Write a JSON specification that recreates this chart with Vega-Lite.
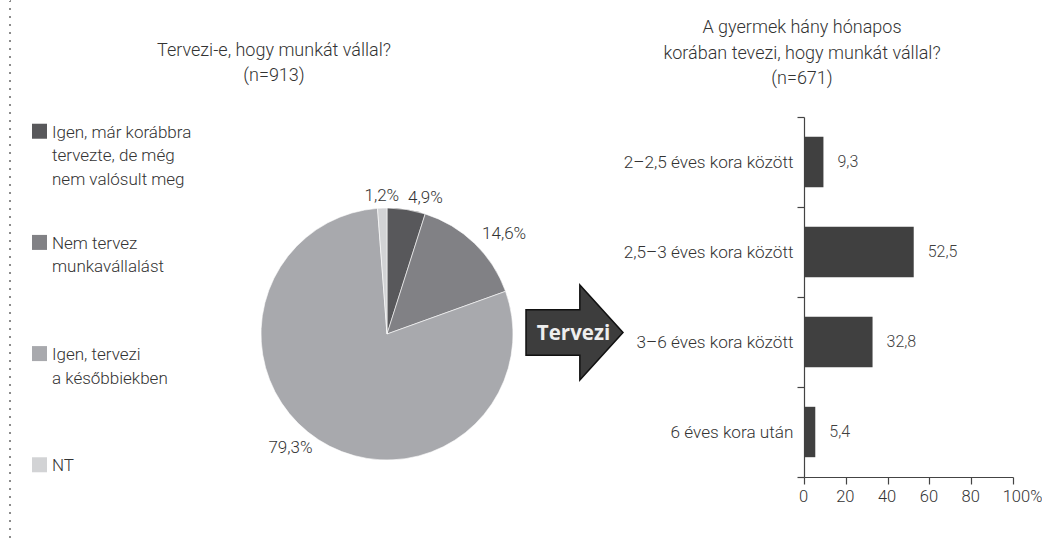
{
  "$schema": "https://vega.github.io/schema/vega-lite/v6.json",
  "background": "white",
  "padding": {"left": 9, "top": 0, "right": 0, "bottom": 0},
  "config": {
    "font": "Roboto",
    "view": {"stroke": null},
    "locale": {"number": {"decimal": ",", "thousands": " ", "grouping": [3], "currency": ["", ""]}},
    "title": {"font": "Roboto", "fontSize": 18, "fontWeight": 300, "color": "#333333", "lineHeight": 25.5, "anchor": "middle", "frame": "group"},
    "axis": {"labelFont": "Roboto", "labelFontWeight": 300}
  },
  "datasets": {
    "pie": [
      {"cat": "Igen, már korábbra\ntervezte, de még\nnem valósult meg", "pct": 4.9},
      {"cat": "Nem tervez\nmunkavállalást", "pct": 14.6},
      {"cat": "Igen, tervezi\na későbbiekben", "pct": 79.3},
      {"cat": "NT", "pct": 1.2}
    ],
    "bars": [
      {"cat": "2–2,5 éves kora között", "val": 9.3},
      {"cat": "2,5–3 éves kora között", "val": 52.5},
      {"cat": "3–6 éves kora között", "val": 32.8},
      {"cat": "6 éves kora után", "val": 5.4}
    ],
    "arrow": [{"label": "Tervezi"}],
    "none": []
  },
  "bounds": "flush",
  "spacing": 21,
  "hconcat": [
    {
      "width": 0.01,
      "height": 536,
      "data": {"name": "none"},
      "mark": "point",
      "view": {"stroke": "#8c8c8c", "strokeWidth": 2, "strokeDash": [1, 7]}
    },
    {
      "bounds": "flush",
      "spacing": 0,
      "vconcat": [
        {
          "width": 0.01,
          "height": 116,
          "data": {"name": "none"},
          "mark": "point"
        },
        {
          "bounds": "flush",
          "spacing": 494,
          "hconcat": [
            {
              "bounds": "flush",
              "spacing": 201,
              "hconcat": [
                {
                  "width": 15,
                  "height": 362,
                  "data": {"name": "pie"},
                  "encoding": {
                    "y": {"field": "cat", "type": "nominal", "sort": null, "scale": {"type": "point", "padding": 0.128}, "axis": null}
                  },
                  "layer": [
                    {
                      "mark": {"type": "point", "shape": "square", "filled": true, "size": 225, "opacity": 1},
                      "encoding": {
                        "color": {"field": "cat", "type": "nominal", "legend": null,
                          "scale": {"domain": ["Igen, már korábbra\ntervezte, de még\nnem valósult meg", "Nem tervez\nmunkavállalást", "Igen, tervezi\na későbbiekben", "NT"],
                                    "range": ["#58585b", "#818185", "#a8a9ad", "#d2d3d5"]}}
                      }
                    },
                    {
                      "mark": {"type": "text", "align": "left", "baseline": "alphabetic", "dx": 12.5, "dy": 6.5, "lineBreak": "\n", "lineHeight": 23.5, "fontSize": 17, "fontWeight": 300, "color": "#333333"},
                      "encoding": {"text": {"field": "cat", "type": "nominal"}}
                    }
                  ]
                },
                {
                  "width": 278,
                  "height": 424,
                  "data": {"name": "pie"},
                  "title": {"text": ["Tervezi-e, hogy  munkát vállal?", "(n=913)"], "dx": -113, "offset": 32},
                  "transform": [
                    {"window": [{"op": "row_number", "as": "rank"}]},
                    {"calculate": "format(datum.pct, '.1f') + '%'", "as": "plabel"}
                  ],
                  "encoding": {
                    "theta": {"field": "pct", "type": "quantitative", "stack": true},
                    "order": {"field": "rank", "type": "quantitative"}
                  },
                  "layer": [
                    {
                      "mark": {"type": "arc", "outerRadius": 126, "stroke": "#ffffff", "strokeWidth": 0.6, "yOffset": 5},
                      "encoding": {
                        "color": {"field": "cat", "type": "nominal", "legend": null,
                          "scale": {"domain": ["Igen, már korábbra\ntervezte, de még\nnem valósult meg", "Nem tervez\nmunkavállalást", "Igen, tervezi\na későbbiekben", "NT"],
                                    "range": ["#58585b", "#818185", "#a8a9ad", "#d2d3d5"]}}
                      }
                    },
                    {
                      "mark": {"type": "text", "radius": 137, "fontSize": 17, "fontWeight": 300, "color": "#333333", "baseline": "middle", "yOffset": 4,
                               "align": {"expr": "(datum.pct_start + datum.pct_end) / 2 > 90 ? 'center' : (datum.pct_start + datum.pct_end) / 2 > 50 ? 'right' : 'left'"}},
                      "encoding": {
                        "detail": {"field": "cat", "type": "nominal"},
                        "text": {"field": "plabel", "type": "nominal"}
                      }
                    }
                  ]
                }
              ]
            },
            {
              "bounds": "flush",
              "spacing": 181,
              "hconcat": [
                {
                  "width": 97,
                  "height": 425,
                  "data": {"name": "arrow"},
                  "layer": [
                    {
                      "mark": {"type": "point", "shape": "M-1,-0.47L0.11,-0.47L0.11,-0.98L1,0L0.11,0.98L0.11,0.47L-1,0.47Z", "size": 9409, "filled": true, "fill": "#3d3d3d", "stroke": "#111111", "strokeWidth": 1.5, "opacity": 1, "yOffset": 3},
                      "encoding": {}
                    },
                    {
                      "mark": {"type": "text", "font": "Open Sans", "fontWeight": "bold", "fontSize": 20.5, "color": "#eeeeee", "dx": -1, "dy": 4},
                      "encoding": {"text": {"field": "label", "type": "nominal"}}
                    }
                  ]
                },
                {
                  "width": 209,
                  "height": 360,
                  "data": {"name": "bars"},
                  "title": {"text": ["A gyermek hány hónapos", "korában tevezi, hogy munkát vállal?", "(n=671)"], "dx": -106.5, "offset": 20},
                  "encoding": {
                    "y": {"field": "cat", "type": "nominal", "sort": null,
                          "scale": {"paddingInner": 0, "paddingOuter": 0},
                          "axis": {"title": null, "tickBand": "extent", "tickSize": 7, "labelFontSize": 17.2, "labelColor": "#333333", "labelPadding": 4, "labelLimit": 250,
                                   "domainColor": "#444444", "tickColor": "#444444", "domainWidth": 1.2, "tickWidth": 1.2}},
                    "x": {"field": "val", "type": "quantitative", "scale": {"domain": [0, 100]},
                          "axis": {"title": null, "values": [0, 20, 40, 60, 80, 100], "grid": false, "tickSize": 7, "labelFontSize": 16.5, "labelColor": "#333333", "labelPadding": 4,
                                   "domainColor": "#444444", "tickColor": "#444444", "domainWidth": 1.2, "tickWidth": 1.2, "labelFlush": false,
                                   "labelOffset": {"condition": {"test": "datum.value === 100", "value": 9}, "value": -1},
                                   "labelExpr": "datum.value === 100 ? '100%' : datum.label"}}
                  },
                  "layer": [
                    {"mark": {"type": "bar", "color": "#404040", "height": {"band": 0.56}}},
                    {
                      "mark": {"type": "text", "align": "left", "baseline": "middle", "dx": 14, "fontSize": 16, "fontWeight": 300, "color": "#404040"},
                      "encoding": {"text": {"field": "val", "type": "quantitative", "format": ".1f"}}
                    }
                  ]
                }
              ]
            }
          ]
        }
      ]
    }
  ]
}
